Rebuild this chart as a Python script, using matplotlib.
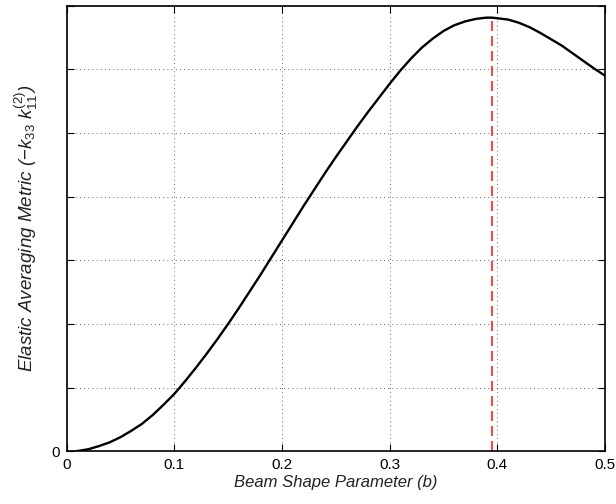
import numpy as np
import matplotlib
matplotlib.use('Agg')
import matplotlib.pyplot as plt

plt.rcParams['font.family'] = ['Liberation Sans', 'DejaVu Sans']
plt.rcParams['mathtext.fontset'] = 'custom'
plt.rcParams['mathtext.rm'] = 'Liberation Sans'
plt.rcParams['mathtext.it'] = 'Liberation Sans:italic'

# Values
b = [0.009, 0.02, 0.03, 0.04, 0.05, 0.06, 0.07, 0.08, 0.09, 0.10,
     0.11, 0.12, 0.13, 0.14, 0.15, 0.16, 0.17, 0.18, 0.19, 0.20,
     0.21, 0.22, 0.23, 0.24, 0.25, 0.26, 0.27, 0.28, 0.29, 0.30,
     0.31, 0.32, 0.33, 0.34, 0.35, 0.36, 0.37, 0.38, 0.39, 0.395,
     0.40, 0.41, 0.42, 0.43, 0.44, 0.45, 0.46, 0.47, 0.48, 0.49,
     0.50]
metric = [0.0, 0.03, 0.08, 0.14, 0.22, 0.32, 0.43, 0.57, 0.73, 0.90,
          1.10, 1.31, 1.53, 1.76, 2.00, 2.25, 2.51, 2.77, 3.04, 3.31,
          3.58, 3.85, 4.11, 4.37, 4.62, 4.86, 5.10, 5.33, 5.55, 5.77,
          5.98, 6.17, 6.34, 6.48, 6.60, 6.69, 6.75, 6.79, 6.81, 6.81,
          6.80, 6.78, 6.73, 6.66, 6.57, 6.47, 6.37, 6.25, 6.13, 6.01,
          5.90]
b_opt = 0.395
metric_opt = 6.81

xticks = [0, 0.1, 0.2, 0.3, 0.4, 0.5]
xticklabels = ['0', '0.1', '0.2', '0.3', '0.4', '0.5']
yticks = [0, 1, 2, 3, 4, 5, 6, 7]
yticklabels = ['0', '', '', '', '', '', '', '']

fig = plt.figure(figsize=(6.16, 5.04), dpi=100)
ax = fig.add_axes([0.1083, 0.1048, 0.8737, 0.8842])

ax.plot(b, metric, color='black', linewidth=1.7, solid_joinstyle='round')
ax.plot([b_opt, b_opt], [0, metric_opt], color='#ff2020', linewidth=1.2,
        linestyle=(0, (6, 3)))

ax.set_xlim(0, 0.5)
ax.set_ylim(0, 7)
ax.set_xticks(xticks)
ax.set_xticklabels(xticklabels)
ax.set_yticks(yticks)
ax.set_yticklabels(yticklabels)
ax.tick_params(direction='in', length=5, width=0.8, top=True, right=True,
               labelsize=11, colors='black', pad=5)
ax.grid(True, linestyle=(0, (1, 4)), color='#333333', linewidth=0.6)
for s in ax.spines.values():
    s.set_linewidth(1.2)

ax.set_xlabel('Beam Shape Parameter (b)', fontsize=12, style='italic',
              color='#222222', labelpad=2)
ax.set_ylabel(r'Elastic Averaging Metric ($-k_{33}\ k_{11}^{(2)}$)',
              fontsize=13.5, style='italic', color='#222222', labelpad=8)

fig.savefig('out.png', dpi=100)
